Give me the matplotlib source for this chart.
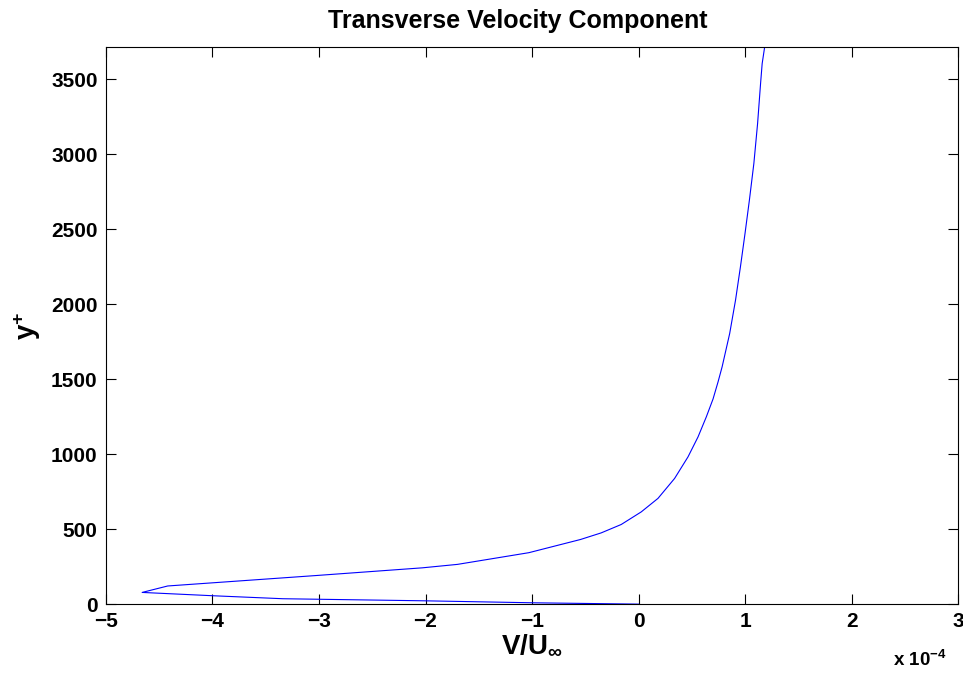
import matplotlib
matplotlib.use("Agg")
import matplotlib.pyplot as plt
from matplotlib.ticker import FuncFormatter

plt.rcParams['font.family'] = ['Liberation Sans', 'DejaVu Sans']
plt.rcParams['font.weight'] = 'bold'
plt.rcParams['mathtext.fontset'] = 'custom'
plt.rcParams['mathtext.rm'] = 'Liberation Sans:bold'
plt.rcParams['mathtext.it'] = 'Liberation Sans:bold'
plt.rcParams['mathtext.bf'] = 'Liberation Sans:bold'

# Transverse velocity V/U_inf (in units of 1e-4) versus wall distance y+
v_scaled = [0.0, -1.0, -2.0, -3.34, -4.0, -4.66,
            -4.42, -3.04, -2.03, -1.70, -1.03, -0.545, -0.351, -0.163,
            0.025, 0.182, 0.338, 0.464, 0.558, 0.636, 0.699, 0.746,
            0.784, 0.855, 0.910, 0.956, 0.999, 1.040, 1.082, 1.117,
            1.145, 1.160, 1.183]
y_plus = [0, 9, 22, 36, 56, 78,
          121, 190, 242, 265, 343, 431, 475, 531,
          615, 705, 838, 982, 1115, 1249, 1368, 1482,
          1582, 1804, 2027, 2249, 2471, 2693, 2938, 3204,
          3471, 3604, 3713]
x_ticks = [-5, -4, -3, -2, -1, 0, 1, 2, 3]
y_ticks = [0, 500, 1000, 1500, 2000, 2500, 3000, 3500]
scale = 1e-4

v = [val * scale for val in v_scaled]

fig = plt.figure(figsize=(9.63, 6.75), dpi=100)
ax = fig.add_axes([0.110, 0.105, 0.885, 0.825])
ax.plot(v, y_plus, color='#0000ff', linewidth=0.8)

ax.set_xlim(-5 * scale, 3 * scale)
ax.set_ylim(0, max(y_plus))
ax.set_xticks([t * scale for t in x_ticks])
ax.set_yticks(y_ticks)
ax.xaxis.set_major_formatter(FuncFormatter(lambda x, p: f"{x / scale:.0f}".replace('-', '\u2212')))

ax.tick_params(direction='in', length=7, width=0.8, top=True, right=True,
               labelsize=15, pad=6)
for lbl in ax.get_xticklabels() + ax.get_yticklabels():
    lbl.set_fontweight('bold')
for sp in ax.spines.values():
    sp.set_linewidth(0.8)

ax.set_title('Transverse Velocity Component', fontsize=18, fontweight='bold',
             pad=14, x=0.4836)
ax.set_xlabel(r'V/U$_{\infty}$', fontsize=20, fontweight='bold', labelpad=1)
ax.set_ylabel(r'y$^{+}$', fontsize=20, fontweight='bold', labelpad=6)
fig.text(0.983, 0.0138, r'x 10$^{-4}$', ha='right', va='baseline', fontsize=13.5, fontweight='bold')

fig.savefig('out.png', dpi=100)
